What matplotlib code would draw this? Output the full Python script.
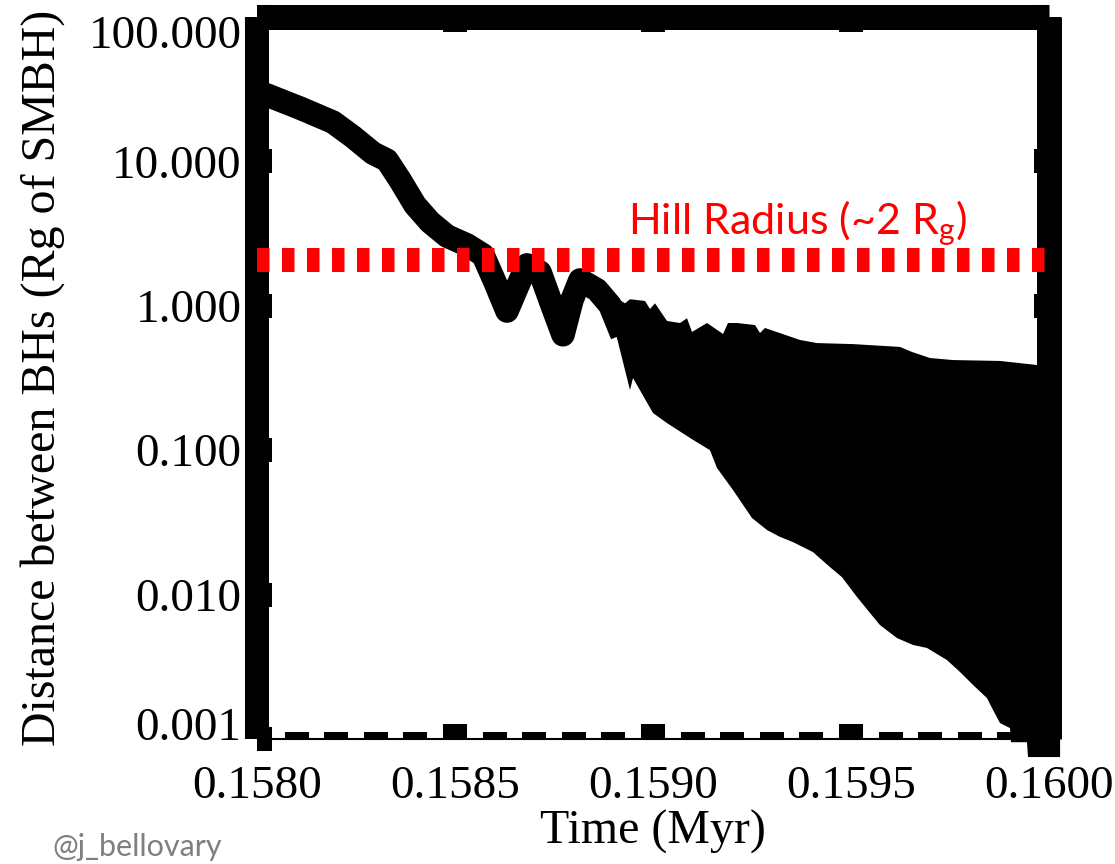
import matplotlib
matplotlib.use('Agg')
import matplotlib.pyplot as plt
from matplotlib.ticker import FixedLocator, MultipleLocator, NullLocator
from matplotlib.transforms import ScaledTranslation
import numpy as np

# smooth inspiral part, drawn as a thick line
line_t = [0.158000, 0.1580253, 0.1581086, 0.1581919, 0.1582424, 0.1582929, 0.1583283,
          0.1583611, 0.1583990, 0.1584369, 0.1584798, 0.1585303, 0.1585707, 0.1586010,
          0.1586313, 0.1586591, 0.1586818, 0.1587146, 0.1587449, 0.1587727, 0.1587955,
          0.1588157, 0.1588586, 0.1588914, 0.1589217]
line_r = [30.3, 28.8, 23.4, 18.7, 14.8, 11.4, 10.2,
          7.43, 4.99, 3.80, 3.04, 2.64, 2.25, 1.46,
          0.92, 1.39, 1.92, 1.71, 1.01, 0.63, 1.10,
          1.51, 1.29, 1.01, 0.63]

# oscillating part: upper envelope of the orbit
hi_t = [0.1588965, 0.1589040, 0.1589293, 0.1589419, 0.1589798, 0.1589924, 0.1590051,
        0.1590354, 0.1590682, 0.1590859, 0.1590985, 0.1591364, 0.1591768, 0.1591894,
        0.1592121, 0.1592576, 0.1592702, 0.1592828, 0.1593712, 0.1594141, 0.1595051,
        0.1596237, 0.1596540, 0.1596995, 0.1597576, 0.1598763, 0.1599697, 0.1600280]
hi_r = [1.01, 1.15, 1.04, 1.11, 1.08, 0.95, 1.04,
        0.785, 0.760, 0.82, 0.659, 0.760, 0.638, 0.760,
        0.760, 0.736, 0.648, 0.702, 0.580, 0.552, 0.543,
        0.519, 0.479, 0.435, 0.421, 0.415, 0.389, 0.389]

# lower envelope of the orbit
lo_t = [0.1588965, 0.1589040, 0.1589419, 0.1589495, 0.1590000, 0.1590354, 0.1591010,
        0.1591439, 0.1591616, 0.1592020, 0.1592500, 0.1592879, 0.1593207, 0.1593535,
        0.1594040, 0.1594470, 0.1594773, 0.1595152, 0.1595480, 0.1595732, 0.1596162,
        0.1596566, 0.1596919, 0.1597424, 0.1597753, 0.1598081, 0.1598434, 0.1598586,
        0.1598763, 0.1599015, 0.1599040, 0.1599444, 0.1599470, 0.1600280]
lo_r = [1.01, 0.68, 0.261, 0.316, 0.181, 0.154, 0.118,
        0.100, 0.0753, 0.0530, 0.0339, 0.0280, 0.0251, 0.0231,
        0.0197, 0.0155, 0.0132, 0.00962, 0.00746, 0.00615, 0.00500,
        0.00448, 0.00427, 0.00352, 0.00291, 0.00237, 0.00192, 0.00159,
        0.00129, 0.00119, 0.00095, 0.00095, 0.00075, 0.00075]

hill_r = 2.07

x_ticks = [0.1580, 0.1585, 0.1590, 0.1595, 0.1600]
x_labels = ['0.1580', '0.1585', '0.1590', '0.1595', '0.1600']
y_ticks = [0.001, 0.01, 0.1, 1, 10, 100]
y_labels = ['0.001', '0.010', '0.100', '1.000', '10.000', '100.000']

plt.rcParams['font.family'] = ['Liberation Serif', 'DejaVu Serif']
plt.rcParams['lines.scale_dashes'] = False

fig = plt.figure(figsize=(11.15, 8.64), dpi=100)
ax = fig.add_axes([257 / 1115, 125 / 864, 792 / 1115, 722 / 864])
ax.set_yscale('log')
ax.set_xlim(0.158, 0.160)
ax.set_ylim(0.001, 100)

ax.plot(line_t, line_r, color='k', lw=17, solid_capstyle='butt', solid_joinstyle='round')
ax.fill(np.concatenate([hi_t, lo_t[::-1]]), np.concatenate([hi_r, lo_r[::-1]]),
        color='k', lw=0, clip_on=False)

ax.axhline(hill_r, color='red', lw=17.3, dashes=(9, 9), zorder=3, clip_on=False)
ax.text(0.1589369, 3.14, 'Hill Radius (~2 R$_\\mathregular{g}$)', color='red',
        fontsize=31, family='Lato', va='baseline')

# heavy IDL-like frame
for side, w in [('left', 17.3), ('top', 18), ('right', 18), ('bottom', 1.5)]:
    ax.spines[side].set_linewidth(w)
    ax.spines[side].set_capstyle('butt')

ax.xaxis.set_major_locator(FixedLocator(x_ticks))
ax.set_xticklabels(x_labels)
ax.xaxis.set_minor_locator(MultipleLocator(0.0001))
ax.set_yticks(y_ticks, y_labels)
ax.yaxis.set_minor_locator(NullLocator())

ax.tick_params(which='both', direction='in', top=True, right=True, width=17.3, color='k')
ax.tick_params(which='major', length=10.8)
ax.tick_params(which='minor', length=5)
ax.tick_params(axis='x', pad=19, labelsize=34)
ax.tick_params(axis='y', pad=11, labelsize=34)

# keep the end labels inside the axis range
labs = ax.yaxis.get_majorticklabels()
for lab, dy in ((labs[0], 15), (labs[-1], -15)):
    lab.set_transform(lab.get_transform() + ScaledTranslation(0, dy / 100, fig.dpi_scale_trans))

ax.set_xlabel('Time (Myr)', fontsize=34.5, labelpad=1)
ax.set_ylabel('Distance between BHs (Rg of SMBH)', fontsize=34.5, labelpad=17)

fig.text(52 / 1115, 8 / 864, '@j_bellovary', color='#7f7f7f', fontsize=22,
         family='Lato', va='baseline')

fig.savefig('out.png', dpi=100)
